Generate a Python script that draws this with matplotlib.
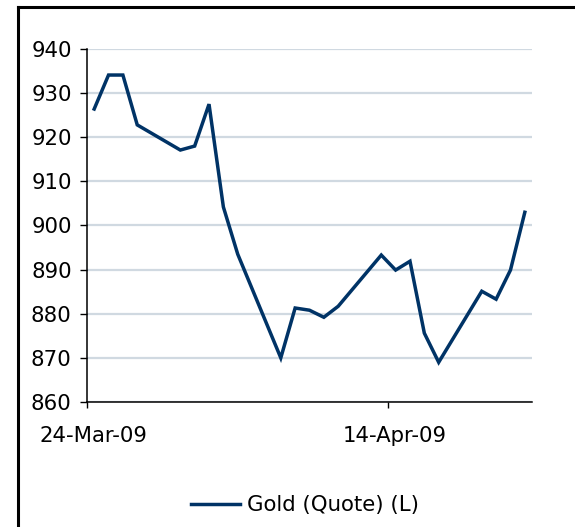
import numpy as np
import pandas as pd
import matplotlib
matplotlib.use('Agg')
from matplotlib import pyplot as plt, dates as mdates, transforms
from matplotlib.lines import Line2D

# gold quote, trading days 24-Mar-09 .. 23-Apr-09
dates = ['2009-03-24', '2009-03-25', '2009-03-26', '2009-03-27',
         '2009-03-30', '2009-03-31', '2009-04-01', '2009-04-02', '2009-04-03',
         '2009-04-06', '2009-04-07', '2009-04-08', '2009-04-09', '2009-04-10',
         '2009-04-13', '2009-04-14', '2009-04-15', '2009-04-16', '2009-04-17',
         '2009-04-20', '2009-04-21', '2009-04-22', '2009-04-23']
gold = [926.4, 934.1, 934.1, 922.8,
        917.1, 918.0, 927.5, 904.2, 893.5,
        870.0, 881.3, 880.8, 879.2, 881.7,
        893.3, 889.9, 891.9, 875.6, 869.0,
        885.1, 883.3, 889.9, 903.0]
tick_dates = ['2009-03-24', '2009-04-14']
tick_labels = ['24-Mar-09', '14-Apr-09']
series_name = 'Gold (Quote) (L)'

navy = '#003366'
fs = 15.3

fig = plt.figure(figsize=(5.75, 5.27), dpi=100)
ax = fig.add_axes([87/575, 1 - 402/527, (532-87)/575, (402-49)/527])

x = pd.to_datetime(dates) + pd.Timedelta(hours=12)
ax.plot(x, gold, color=navy, lw=2.5, solid_joinstyle='miter', label=series_name, zorder=3)

ax.set_xlim(pd.Timestamp('2009-03-24'), pd.Timestamp('2009-04-24'))
ax.set_ylim(860, 940)
ax.set_yticks(np.arange(860, 941, 10))
ax.set_xticks(pd.to_datetime(tick_dates))
ax.set_xticklabels(tick_labels)

ax.grid(axis='y', color='#d0d9e1', lw=1.6, zorder=0)
ax.set_axisbelow(True)
for s in ['top', 'right']:
    ax.spines[s].set_visible(False)
for s in ['left', 'bottom']:
    ax.spines[s].set_linewidth(1.1)
ax.tick_params(axis='y', length=5, width=1, pad=6, labelsize=fs, color='black')
ax.tick_params(axis='x', length=4, width=1, pad=13, labelsize=fs, color='black')
offset = transforms.ScaledTranslation(6/100, 0, fig.dpi_scale_trans)
for lbl in ax.get_xticklabels():
    lbl.set_transform(lbl.get_transform() + offset)

fig.legend(loc='center', bbox_to_anchor=(305/575, 1 - 505/527), frameon=False,
           fontsize=fs, handlelength=2.3, handletextpad=0.3)

# outer frame (left and top only)
fig.add_artist(Line2D([18/575, 18/575], [0, 1 - 7/527], color='black', lw=2.2,
                      transform=fig.transFigure))
fig.add_artist(Line2D([18/575, 1], [1 - 7/527, 1 - 7/527], color='black', lw=2.2,
                      transform=fig.transFigure))

fig.savefig('out.png', dpi=100)
